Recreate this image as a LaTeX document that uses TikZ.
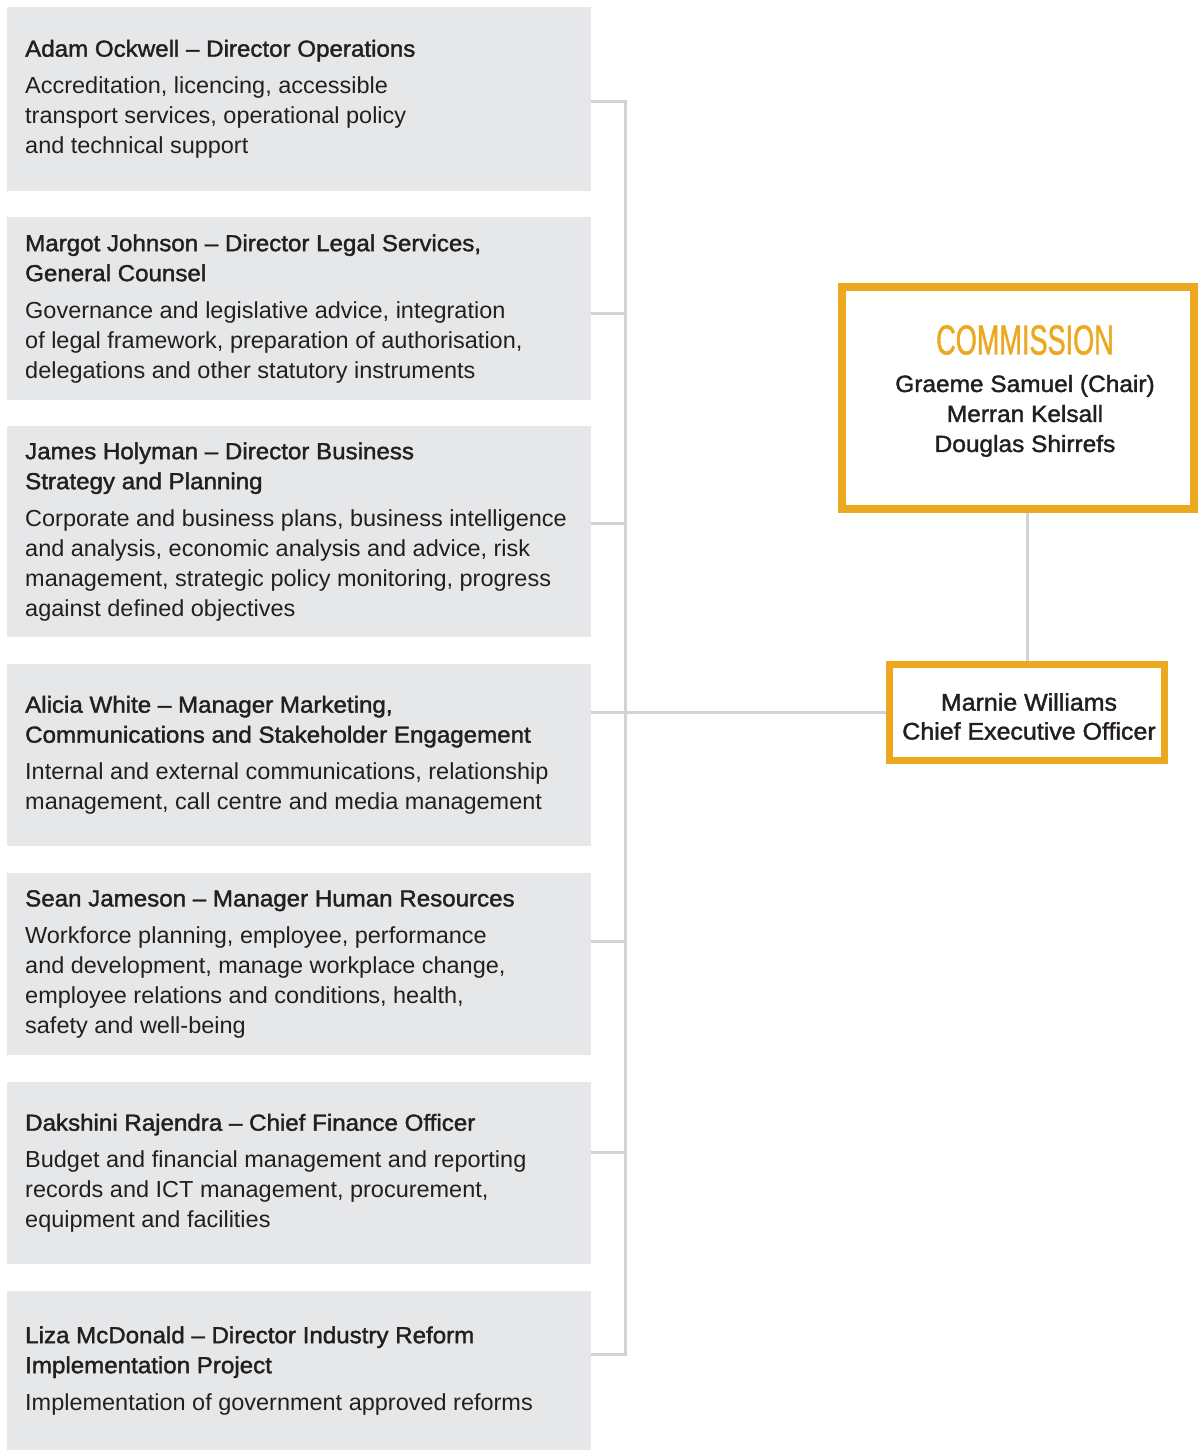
\documentclass[tikz,border=0pt]{standalone}
\usepackage{fontspec}
\setmainfont{Liberation Sans}[FakeStretch=1.012]
\newfontfamily\headfont{Liberation Sans}[FakeBold=1.6,FakeStretch=1.04]
\newfontfamily\condfont{Liberation Sans}[FakeBold=1,FakeStretch=0.645]
\usetikzlibrary{positioning,calc}
\definecolor{unitgrey}{HTML}{E6E7E8}
\definecolor{linkgrey}{HTML}{D1D3D4}
\definecolor{commgold}{HTML}{ECA920}
\definecolor{inkgrey}{HTML}{231F20}
\tikzset{
	unit/.style={anchor=north west,fill=unitgrey,minimum height=#1,text width=548pt,
		inner xsep=18pt,inner ysep=0pt,align=flush left,text=inkgrey,
		font=\fontsize{23.2}{30}\selectfont},
	board/.style={draw=commgold,fill=white,line width=#1},
	boardtext/.style={align=center,text=inkgrey,inner sep=0pt,
		font=\headfont\fontsize{23.5}{30}\selectfont},
	link/.style={draw=linkgrey,line width=3pt},
}
\newcommand{\head}[1]{{\headfont #1}\\[7pt]}

\begin{document}
\begin{tikzpicture}[x=1pt,y=-1pt]
		\useasboundingbox (0,0) rectangle (1198,1450);

		% business units down the left
		\node[unit=184pt] (b1) at (7,7) {\head{Adam Ockwell – Director Operations}
			Accreditation, licencing, accessible\\transport services, operational policy\\and technical support};
		\node[unit=183pt] (b2) at (7,217) {\head{Margot Johnson – Director Legal Services,\\General Counsel}
			Governance and legislative advice, integration\\of legal framework, preparation of authorisation,\\delegations and other statutory instruments};
		\node[unit=211pt] (b3) at (7,426) {\head{James Holyman – Director Business\\Strategy and Planning}
			Corporate and business plans, business intelligence\\and analysis, economic analysis and advice, risk\\management, strategic policy monitoring, progress\\against defined objectives};
		\node[unit=182pt] (b4) at (7,664) {\head{Alicia White – Manager Marketing,\\Communications and Stakeholder Engagement}
			Internal and external communications, relationship\\management, call centre and media management};
		\node[unit=182pt] (b5) at (7,873) {\head{Sean Jameson – Manager Human Resources}
			Workforce planning, employee, performance\\and development, manage workplace change,\\employee relations and conditions, health,\\safety and well-being};
		\node[unit=182pt] (b6) at (7,1082) {\head{Dakshini Rajendra – Chief Finance Officer}
			Budget and financial management and reporting\\records and ICT management, procurement,\\equipment and facilities};
		\node[unit=159pt] (b7) at (7,1291) {\head{Liza McDonald – Director Industry Reform\\Implementation Project}
			Implementation of government approved reforms};

		% commission and CEO
		\node[board=8pt,minimum width=352pt,minimum height=222pt] (comm) at (1018,398) {};
		\node[boardtext] (commtext) at ([xshift=7pt,yshift=7pt]comm.center)
			{{\condfont\fontsize{42}{42}\selectfont\color{commgold}COMMISSION}\\[7.5pt]
			Graeme Samuel (Chair)\\Merran Kelsall\\Douglas Shirrefs};
		\node[board=7pt,minimum width=275pt,minimum height=96pt] (ceo) at (1027,712.5) {};
		\node[boardtext,font=\headfont\fontsize{24}{29}\selectfont] (ceotext) at ([xshift=2pt,yshift=-4pt]ceo.center)
			{Marnie Williams\\Chief Executive Officer};

		% reporting lines
		\coordinate (top) at (625,102);
		\coordinate (bot) at (625,1354);
		\draw[link] (b1.east |- top) -- (top) -- (bot) -- (b7.east |- bot);
		\foreach \b/\j in {b2/313,b3/523,b5/941,b6/1152}
			\draw[link] (\b.east |- 0,\j) -- (top |- 0,\j);
		\draw[link] (b4.east |- ceo.west) -- (ceo.west);
		\draw[link] (ceo.north) -- (ceo.north |- comm.south);
\end{tikzpicture}
\end{document}
